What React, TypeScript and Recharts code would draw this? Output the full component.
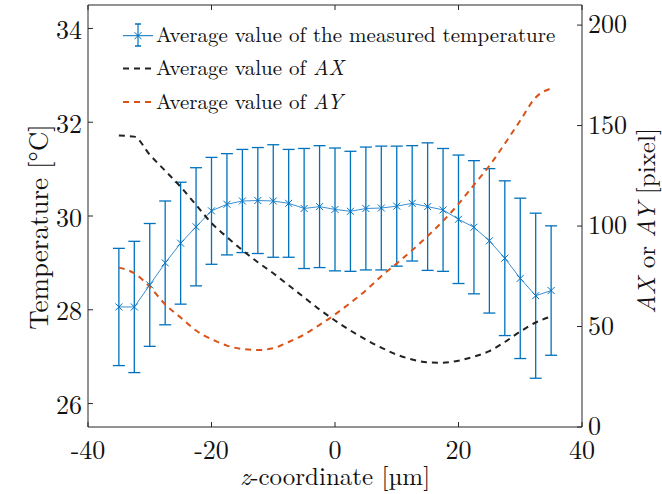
import React from 'react';
import { ComposedChart, Line, XAxis, YAxis, ErrorBar, Legend, Label } from 'recharts';

// z positions of the measurement planes [µm]
const zCoords = [
  -35, -32.5, -30, -27.5, -25, -22.5, -20, -17.5, -15, -12.5, -10, -7.5, -5, -2.5,
  0, 2.5, 5, 7.5, 10, 12.5, 15, 17.5, 20, 22.5, 25, 27.5, 30, 32.5, 35,
];

// mean measured temperature [°C] and its spread
const tempMean = [
  28.06, 28.06, 28.53, 29.0, 29.42, 29.77, 30.11, 30.25, 30.32, 30.33, 30.32, 30.27, 30.16, 30.2,
  30.14, 30.1, 30.16, 30.17, 30.21, 30.27, 30.2, 30.13, 29.93, 29.76, 29.47, 29.1, 28.67, 28.3, 28.41,
];
const tempErr = [
  1.25, 1.4, 1.31, 1.32, 1.3, 1.26, 1.14, 1.08, 1.1, 1.13, 1.2, 1.15, 1.28, 1.3,
  1.31, 1.28, 1.31, 1.32, 1.28, 1.23, 1.36, 1.31, 1.37, 1.42, 1.54, 1.65, 1.71, 1.76, 1.38,
];

// average AX / AY [pixel]
const axValues = [
  145, 144.5, 135.5, 127.5, 119.5, 110.5, 101.5, 94.5, 88, 82, 76.5, 70.5, 64.5, 58.5,
  53, 48, 43.5, 39.5, 36, 33.6, 32.2, 32, 33, 35, 37.8, 42.3, 47.5, 52, 55,
];
const ayValues = [
  79.3, 76.5, 69.8, 61, 54.5, 48, 43.7, 40.5, 38.8, 38.3, 39.2, 42.3, 46, 50.8,
  56, 61.8, 68, 75, 81.4, 88, 95, 102.5, 111, 120.5, 130, 141, 152.5, 164, 168.5,
];

const xTicks = [-40, -20, 0, 20, 40];
const leftTicks = [26, 28, 30, 32, 34];
const rightTicks = [0, 50, 100, 150, 200];

const rows = zCoords.map((z, i) => ({
  z,
  temp: tempMean[i],
  err: tempErr[i],
  ax: axValues[i],
  ay: ayValues[i],
}));

const FONT = "'Latin Modern Roman'";
const FRAME = '#262626';
const BLUE = '#0072BD';
const ORANGE = '#D95319';
const DARK = '#222222';
const txt = (size: number) => ({ fontFamily: FONT, fontSize: size });

function BottomTick(props: any) {
  const { x, y, payload } = props;
  return (
    <g>
      <line x1={x} x2={x} y1={y} y2={y - 5} stroke={FRAME} />
      <text x={x} y={y + 32} textAnchor="middle" style={txt(26)} fill="#111">
        {payload.value}
      </text>
    </g>
  );
}

function TopTick(props: any) {
  const { x, y } = props;
  return <line x1={x} x2={x} y1={y} y2={y + 5} stroke={FRAME} />;
}

function LeftTick(props: any) {
  const { x, y, payload } = props;
  return (
    <g>
      <line x1={x} x2={x + 5} y1={y} y2={y} stroke={FRAME} />
      <text x={x - 6} y={y + 10.5} textAnchor="end" style={txt(26)} fill="#111">
        {payload.value}
      </text>
    </g>
  );
}

function RightTick(props: any) {
  const { x, y, payload } = props;
  return (
    <g>
      <line x1={x} x2={x - 5} y1={y} y2={y} stroke={FRAME} />
      <text x={x + 6} y={y + 8} textAnchor="start" style={txt(26)} fill="#111">
        {payload.value}
      </text>
    </g>
  );
}

const xLabel = (props: any) => {
  const vb = props.viewBox;
  return (
    <text x={vb.x + vb.width / 2} y={vb.y + 58} textAnchor="middle" style={txt(25)} fill="#111">
      <tspan fontStyle="italic">z</tspan>-coordinate [µm]
    </text>
  );
};

const leftLabel = (props: any) => {
  const vb = props.viewBox;
  const cx = vb.x + 48;
  const cy = vb.y + vb.height / 2 + 11;
  return (
    <text x={cx} y={cy} transform={`rotate(-90 ${cx} ${cy})`} textAnchor="middle" style={txt(27)} fill="#111">
      Temperature [°C]
    </text>
  );
};

const rightLabel = (props: any) => {
  const vb = props.viewBox;
  const cx = vb.x + 73;
  const cy = vb.y + vb.height / 2 + 5;
  return (
    <text x={cx} y={cy} transform={`rotate(-90 ${cx} ${cy})`} textAnchor="middle" style={txt(25)} fill="#111">
      <tspan fontStyle="italic">AX</tspan> or <tspan fontStyle="italic">AY</tspan> [pixel]
    </text>
  );
};

const XMark = (props: any) => {
  const { cx, cy, index } = props;
  if (cx == null || cy == null) return <g key={index} />;
  const s = 3.5;
  return (
    <path
      key={index}
      d={`M${cx - s},${cy - s}L${cx + s},${cy + s}M${cx - s},${cy + s}L${cx + s},${cy - s}`}
      stroke={BLUE}
      strokeWidth={1}
      fill="none"
    />
  );
};

const renderLegend = () => {
  const rowsY = [35.7, 68.5, 102];
  const text = (y: number, content: React.ReactNode) => (
    <text x={156} y={y + 6.5} style={txt(21)} fill="#111">
      {content}
    </text>
  );
  return (
    <svg width={662} height={120} style={{ display: 'block' }}>
      <line x1={123} x2={153} y1={rowsY[0]} y2={rowsY[0]} stroke={BLUE} strokeWidth={1} />
      <line x1={138} x2={138} y1={24} y2={46} stroke={BLUE} strokeWidth={1.2} />
      <line x1={135} x2={141} y1={24} y2={24} stroke={BLUE} strokeWidth={1.5} />
      <line x1={135} x2={141} y1={46} y2={46} stroke={BLUE} strokeWidth={1.5} />
      <path d={`M134.5,${rowsY[0] - 3.5}L141.5,${rowsY[0] + 3.5}M134.5,${rowsY[0] + 3.5}L141.5,${rowsY[0] - 3.5}`} stroke={BLUE} />
      {text(rowsY[0], 'Average value of the measured temperature')}
      <line x1={123} x2={154} y1={rowsY[1]} y2={rowsY[1]} stroke={DARK} strokeWidth={2} strokeDasharray="6 5" />
      {text(rowsY[1], <>Average value of <tspan fontStyle="italic">AX</tspan></>)}
      <line x1={123} x2={154} y1={rowsY[2]} y2={rowsY[2]} stroke={ORANGE} strokeWidth={2} strokeDasharray="6 5" />
      {text(rowsY[2], <>Average value of <tspan fontStyle="italic">AY</tspan></>)}
    </svg>
  );
};

export default function App() {
  return (
    <div style={{ position: 'absolute', left: 0, top: 0, background: '#fff' }}>
      <ComposedChart width={662} height={494} data={rows} margin={{ top: 0, right: 0, bottom: 0, left: 0 }}>
        <XAxis
          xAxisId="bottom"
          dataKey="z"
          type="number"
          domain={[-40, 40]}
          ticks={xTicks}
          interval={0}
          height={67}
          tickSize={0}
          tickMargin={0}
          tickLine={false}
          axisLine={{ stroke: FRAME }}
          tick={<BottomTick />}
          allowDataOverflow
        >
          <Label content={xLabel} />
        </XAxis>
        <XAxis
          xAxisId="top"
          orientation="top"
          dataKey="z"
          type="number"
          domain={[-40, 40]}
          ticks={xTicks}
          interval={0}
          height={5}
          tickSize={0}
          tickMargin={0}
          tickLine={false}
          axisLine={{ stroke: FRAME }}
          tick={<TopTick />}
          allowDataOverflow
        />
        <YAxis
          yAxisId="left"
          type="number"
          domain={[25.5, 34.5]}
          ticks={leftTicks}
          interval={0}
          width={88}
          tickSize={0}
          tickMargin={0}
          tickLine={false}
          axisLine={{ stroke: FRAME }}
          tick={<LeftTick />}
          allowDataOverflow
        >
          <Label content={leftLabel} />
        </YAxis>
        <YAxis
          yAxisId="right"
          orientation="right"
          type="number"
          domain={[0, 210]}
          ticks={rightTicks}
          interval={0}
          width={80}
          tickSize={0}
          tickMargin={0}
          tickLine={false}
          axisLine={{ stroke: FRAME }}
          tick={<RightTick />}
          allowDataOverflow
        >
          <Label content={rightLabel} />
        </YAxis>
        <Legend
          layout="vertical"
          align="center"
          verticalAlign="middle"
          content={renderLegend}
          wrapperStyle={{ left: 0, top: 0, width: 662, height: 120 }}
        />
        <Line
          xAxisId="bottom"
          yAxisId="left"
          dataKey="temp"
          type="linear"
          stroke="#3a8fd4"
          strokeWidth={1}
          dot={XMark}
          activeDot={false}
          isAnimationActive={false}
        >
          <ErrorBar dataKey="err" direction="y" width={6} stroke={BLUE} strokeWidth={1.3} isAnimationActive={false} />
        </Line>
        <Line
          xAxisId="bottom"
          yAxisId="right"
          dataKey="ax"
          type="monotone"
          stroke={DARK}
          strokeWidth={2}
          strokeDasharray="6 5"
          dot={false}
          activeDot={false}
          isAnimationActive={false}
        />
        <Line
          xAxisId="bottom"
          yAxisId="right"
          dataKey="ay"
          type="monotone"
          stroke={ORANGE}
          strokeWidth={2}
          strokeDasharray="6 5"
          dot={false}
          activeDot={false}
          isAnimationActive={false}
        />
      </ComposedChart>
    </div>
  );
}
